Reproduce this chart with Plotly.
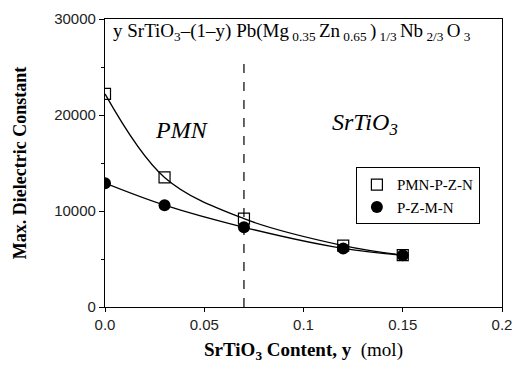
import plotly.graph_objects as go

# SrTiO3 content (mol)
y_content = [0.0, 0.03, 0.07, 0.12, 0.15]
# Maximum dielectric constant for each composition series
pmn_pzn = [22200, 13500, 9200, 6400, 5400]
pzmn = [12900, 10600, 8300, 6100, 5400]

boundary_y = 0.07

y_ticks = [0, 10000, 20000, 30000]
x_ticks = [0, 0.05, 0.1, 0.15, 0.2]
x_ticktext = ["0.0", "0.05", "0.1", "0.15", "0.2"]

serif = "Liberation Serif, Times New Roman, serif"
sans = "Liberation Sans, Arial, sans-serif"

fig = go.Figure()

# smooth guide curves
for vals in (pmn_pzn, pzmn):
    fig.add_trace(go.Scatter(x=y_content, y=vals, mode="lines",
                             line=dict(color="black", width=1.3, shape="spline", smoothing=1.0),
                             showlegend=False, hoverinfo="skip"))

# measured points
fig.add_trace(go.Scatter(x=y_content, y=pmn_pzn, mode="markers", name="PMN-P-Z-N",
                         marker=dict(symbol="square-open", size=11, color="black",
                                     line=dict(width=1.2))))
fig.add_trace(go.Scatter(x=y_content, y=pzmn, mode="markers", name="P-Z-M-N",
                         marker=dict(symbol="circle", size=12, color="black")))

# phase boundary
fig.add_shape(type="line", x0=boundary_y, x1=boundary_y, y0=0, y1=0.86, yref="paper",
              line=dict(color="black", width=1.2, dash="dash"))

fig.add_annotation(x=0.003, y=0.955, xref="x", yref="paper", xanchor="left", yanchor="middle",
                   showarrow=False,
                   text="y SrTiO<sub>3</sub>–(1–y) Pb(Mg<sub> 0.35 </sub>Zn<sub> 0.65 </sub>)<sub> 1/3 </sub>Nb<sub> 2/3 </sub>O<sub> 3</sub>",
                   font=dict(family=serif, size=19, color="black"))
fig.add_annotation(x=0.039, y=0.615, xref="x", yref="paper", showarrow=False,
                   text="<i>PMN</i>", font=dict(family=serif, size=24, color="black"))
fig.add_annotation(x=0.131, y=0.635, xref="x", yref="paper", showarrow=False,
                   text="<i>SrTiO<sub>3</sub></i>", font=dict(family=serif, size=24, color="black"))

fig.update_layout(
    width=513, height=370,
    margin=dict(l=105, r=11, t=19, b=63),
    paper_bgcolor="white", plot_bgcolor="white",
    showlegend=True,
    legend=dict(x=0.632, y=0.485, xanchor="left", yanchor="top",
                bordercolor="black", borderwidth=1, bgcolor="white",
                font=dict(family=serif, size=15, color="black"),
                itemwidth=30, tracegroupgap=0),
    xaxis=dict(range=[0, 0.2], tickvals=x_ticks, ticktext=x_ticktext, automargin=False,
               showline=True, linecolor="black", linewidth=1.3, mirror=True,
               ticks="outside", ticklen=4, tickcolor="black", showgrid=False, zeroline=False,
               tickfont=dict(family=sans, size=15, color="#222"),
               title=dict(text="<b>SrTiO<sub>3</sub> Content, y  </b>(mol)",
                          font=dict(family=serif, size=19, color="black"), standoff=10)),
    yaxis=dict(range=[0, 30000], tickvals=y_ticks, ticktext=[str(v) for v in y_ticks],
               automargin=False,
               showline=True, linecolor="black", linewidth=1.3, mirror=True,
               ticks="outside", ticklen=5, tickcolor="black", showgrid=False, zeroline=False,
               minor=dict(tickvals=[5000, 15000, 25000], ticks="outside", ticklen=3,
                          tickcolor="black"),
               tickfont=dict(family=sans, size=15, color="#222"),
               title=dict(text="<b>Max. Dielectric Constant</b>",
                          font=dict(family=serif, size=18, color="black"), standoff=22)),
)

fig.write_html("out.html")
